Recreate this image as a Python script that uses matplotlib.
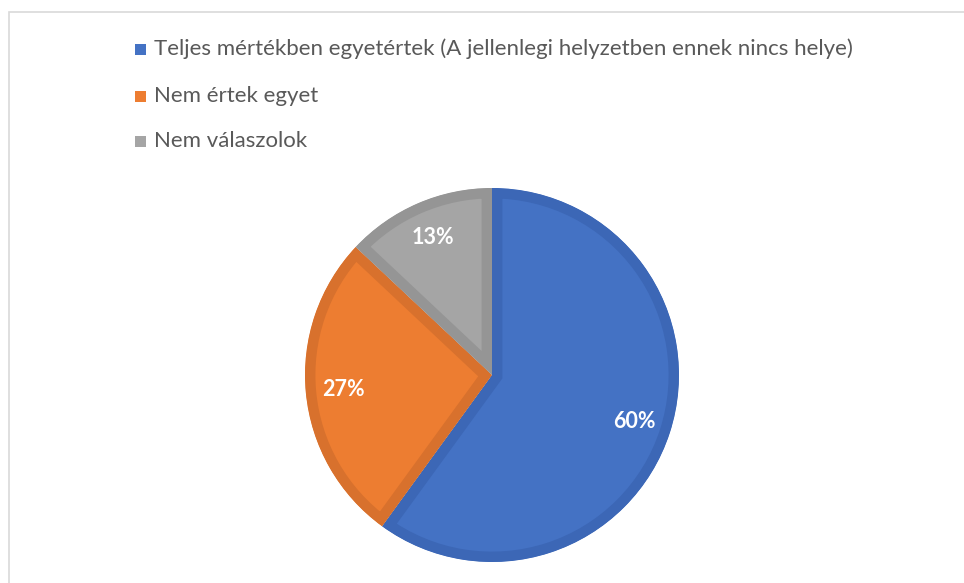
import matplotlib
matplotlib.use("Agg")
import matplotlib.pyplot as plt
from matplotlib.patches import Rectangle

labels = [
    "Teljes mértékben egyetértek (A jellenlegi helyzetben ennek nincs helye)",
    "Nem értek egyet",
    "Nem válaszolok",
]
values = [60, 27, 13]
colors = ["#4472C4", "#ED7D31", "#A5A5A5"]
edge_colors = ["#3C67B6", "#D8712D", "#959595"]

plt.rcParams["font.family"] = ["Lato", "DejaVu Sans"]

W, H = 964, 583
fig = plt.figure(figsize=(W / 100, H / 100), dpi=100)

# chart frame (light grey, top and left visible)
fig.patches.append(Rectangle((9 / W, -0.01), 1.1, (H - 12) / H + 0.01,
                             transform=fig.transFigure, fill=False,
                             edgecolor="#D9D9D9", linewidth=1.2))

cx, cy, r = 492, H - 375, 187
ax = fig.add_axes([(cx - r) / W, (cy - r) / H, 2 * r / W, 2 * r / H])
wedges, texts, autotexts = ax.pie(
    values, colors=colors, startangle=90, counterclock=False, radius=1,
    autopct="%d%%", pctdistance=0.8,
    textprops=dict(color="white", fontsize=15.5, fontweight="bold"),
)
ax.set_xlim(-1, 1)
ax.set_ylim(-1, 1)
ax.set_aspect("auto")
ax.axis("off")
# border drawn only inside each wedge
for w, ec in zip(wedges, edge_colors):
    w.set_edgecolor(ec)
    w.set_linewidth(15)
    w.set_clip_on(True)
    w.set_clip_path(w)

# legend
rows_y = [49, 96, 141]
for lab, c, y in zip(labels, colors, rows_y):
    fig.patches.append(Rectangle((135 / W, (H - y - 5.5) / H), 11 / W, 11 / H,
                                 transform=fig.transFigure, facecolor=c,
                                 edgecolor="none"))
    fig.text(154 / W, (H - y) / H, lab, fontsize=16, color="#595959",
             va="center", ha="left")

fig.savefig("out.png", dpi=100)
